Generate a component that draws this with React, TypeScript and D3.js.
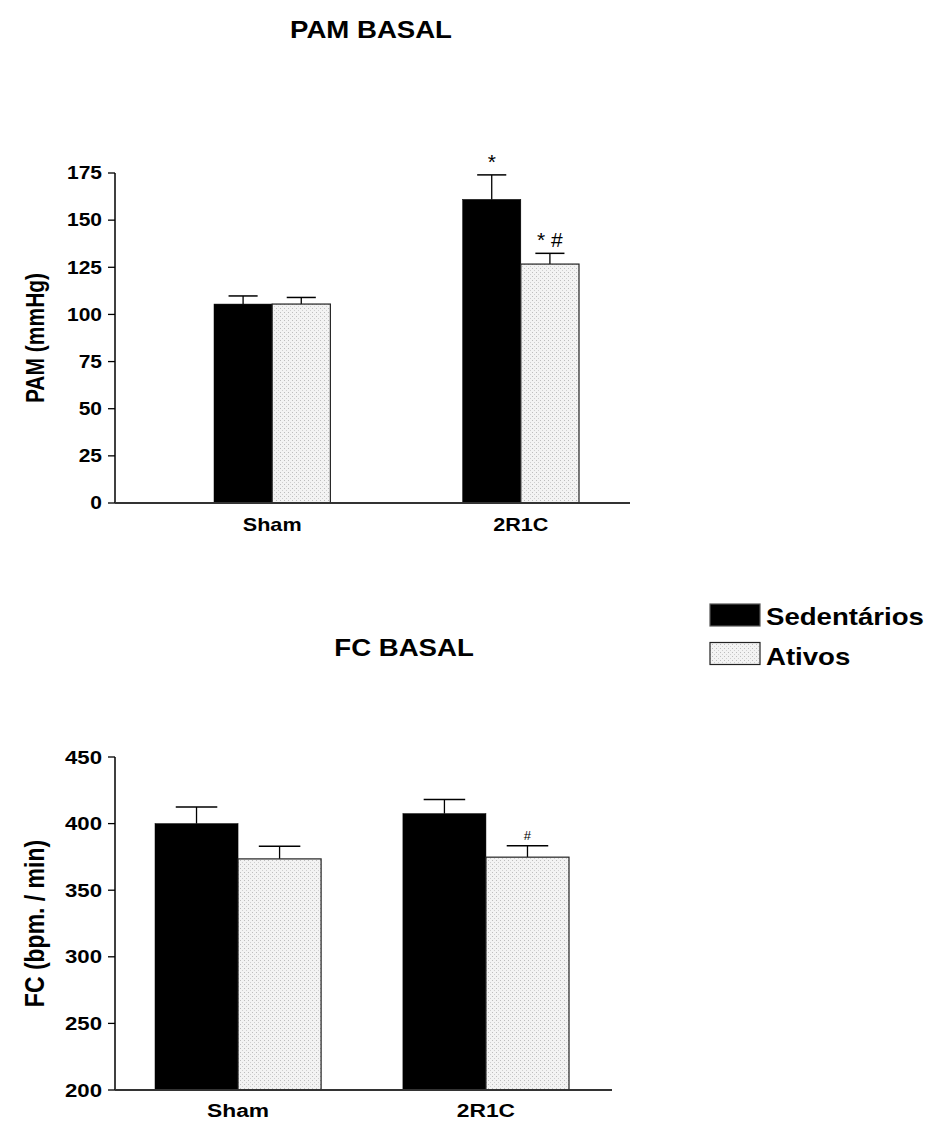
import React from "react";
import * as d3 from "d3";

// groups and series
const groups = ["Sham", "2R1C"];
const seriesNames = ["Sedentários", "Ativos"];

// PAM BASAL (mmHg)
const pamSed = [105.5, 161];
const pamSedErr = [4.3, 13];
const pamAtv = [105.5, 126.7];
const pamAtvErr = [3.5, 5.7];
const pamSedSig = ["", "*"];
const pamAtvSig = ["", "* #"];
const pamTicks = [0, 25, 50, 75, 100, 125, 150, 175];

// FC BASAL (bpm / min)
const fcSed = [400, 407.5];
const fcSedErr = [12.5, 10.5];
const fcAtv = [373.5, 374.8];
const fcAtvErr = [9.5, 8.5];
const fcSedSig = ["", ""];
const fcAtvSig = ["", "#"];
const fcTicks = [200, 250, 300, 350, 400, 450];

const FONT = "'Liberation Sans', Arial, Helvetica, sans-serif";
const SX = 1.2; // the original figure is stretched horizontally

function SText({ x, y, size, anchor = "middle", weight = "bold", children }: any) {
  return (
    <text
      transform={`translate(${x},${y}) scale(${SX},1)`}
      textAnchor={anchor}
      fontFamily={FONT}
      fontWeight={weight}
      fontSize={size}
      fill="#000"
    >
      {children}
    </text>
  );
}

function Panel({ title, titleX, titleY, yLabel, yLabelX, yLabelSize, sed, sedErr, atv, atvErr, sedSig, atvSig, ticks,
  yDomain, yRange, bandRange, pad, axisLeft, axisRight, tickSize, catSize, catY, sigSize, sigGap }: any) {
  const y = d3.scaleLinear().domain(yDomain).range(yRange);
  const x0 = d3.scaleBand().domain(groups).range(bandRange).paddingInner(pad).paddingOuter(0);
  const x1 = d3.scaleBand().domain(seriesNames).range([0, x0.bandwidth()]);
  const bw = x1.bandwidth();
  const base = y(yDomain[0]);
  const data = [
    { s: seriesNames[0], vals: sed, errs: sedErr, sig: sedSig },
    { s: seriesNames[1], vals: atv, errs: atvErr, sig: atvSig },
  ];
  return (
    <g>
      <SText x={titleX} y={titleY} size={23}>{title}</SText>
      <text
        transform={`translate(${yLabelX},${(yRange[0] + yRange[1]) / 2}) scale(${SX},1) rotate(-90)`}
        textAnchor="middle"
        fontFamily={FONT}
        fontWeight="bold"
        fontSize={yLabelSize}
      >
        {yLabel}
      </text>
      {groups.map((g, gi) =>
        data.map((d) => {
          const bx = (x0(g) as number) + (x1(d.s) as number);
          const top = y(d.vals[gi]);
          const et = y(d.vals[gi] + d.errs[gi]);
          const cx = bx + bw / 2;
          const cap = bw / 4;
          const dark = d.s === seriesNames[0];
          return (
            <g key={g + d.s}>
              <line x1={cx} x2={cx} y1={top} y2={et} stroke="#000" strokeWidth={1.3} />
              <line x1={cx - cap} x2={cx + cap} y1={et} y2={et} stroke="#000" strokeWidth={1.5} />
              <rect
                x={bx}
                y={top}
                width={bw}
                height={base - top}
                fill={dark ? "#000" : "url(#stipple)"}
                stroke={dark ? "#000" : "#222"}
                strokeWidth={dark ? 0.5 : 1.2}
              />
              {d.sig[gi] && (
                <text
                  x={cx}
                  y={et - sigGap}
                  textAnchor="middle"
                  fontFamily={FONT}
                  fontSize={sigSize}
                >
                  {d.sig[gi]}
                </text>
              )}
            </g>
          );
        })
      )}
      {/* y axis */}
      <line x1={axisLeft} x2={axisLeft} y1={y(yDomain[1])} y2={base} stroke="#000" strokeWidth={1.5} />
      {ticks.map((t: number) => (
        <g key={t}>
          <line x1={axisLeft - 7} x2={axisLeft} y1={y(t)} y2={y(t)} stroke="#000" strokeWidth={1.3} />
          <SText x={axisLeft - 13} y={y(t) + tickSize * 0.36} size={tickSize} anchor="end">{t}</SText>
        </g>
      ))}
      {/* x axis */}
      <line x1={axisLeft} x2={axisRight} y1={base} y2={base} stroke="#333" strokeWidth={2} />
      {groups.map((g) => (
        <SText key={g} x={(x0(g) as number) + x0.bandwidth() / 2} y={catY} size={catSize}>{g}</SText>
      ))}
    </g>
  );
}

export default function App() {
  return (
    <svg
      width={928}
      height={1121}
      style={{ position: "absolute", left: 0, top: 0, background: "#fff" }}
    >
      <defs>
        <pattern id="stipple" width={4} height={4} patternUnits="userSpaceOnUse">
          <rect width={4} height={4} fill="#f3f3f3" />
          <rect x={0} y={0} width={1} height={1} fill="#bdbdbd" />
          <rect x={2} y={2} width={1} height={1} fill="#cfcfcf" />
        </pattern>
      </defs>
      <rect width={928} height={1121} fill="#fff" />
      <Panel
        title="PAM BASAL"
        titleX={371}
        titleY={38}
        yLabel="PAM (mmHg)"
        yLabelX={44}
        yLabelSize={21}
        sed={pamSed}
        sedErr={pamSedErr}
        atv={pamAtv}
        atvErr={pamAtvErr}
        sedSig={pamSedSig}
        atvSig={pamAtvSig}
        ticks={pamTicks}
        yDomain={[0, 175]}
        yRange={[503, 173]}
        bandRange={[214, 579]}
        pad={0.532}
        axisLeft={115}
        axisRight={630}
        tickSize={17.5}
        catSize={18}
        catY={531}
        sigSize={21}
        sigGap={6}
      />
      <Panel
        title="FC BASAL"
        titleX={404}
        titleY={656}
        yLabel="FC (bpm. / min)"
        yLabelX={44}
        yLabelSize={23}
        sed={fcSed}
        sedErr={fcSedErr}
        atv={fcAtv}
        atvErr={fcAtvErr}
        sedSig={fcSedSig}
        atvSig={fcAtvSig}
        ticks={fcTicks}
        yDomain={[200, 450]}
        yRange={[1090, 757]}
        bandRange={[155, 569]}
        pad={0.33}
        axisLeft={115}
        axisRight={612}
        tickSize={18.5}
        catSize={19}
        catY={1117}
        sigSize={13}
        sigGap={6}
      />
      {/* legend */}
      {seriesNames.map((s, i) => (
        <g key={s}>
          <rect
            x={710}
            y={604 + i * 38.5}
            width={50}
            height={22}
            fill={i === 0 ? "#000" : "url(#stipple)"}
            stroke={i === 0 ? "#555" : "#222"}
            strokeWidth={1.2}
          />
          <SText x={766} y={625 + i * 40} size={23} anchor="start">{s}</SText>
        </g>
      ))}
    </svg>
  );
}
